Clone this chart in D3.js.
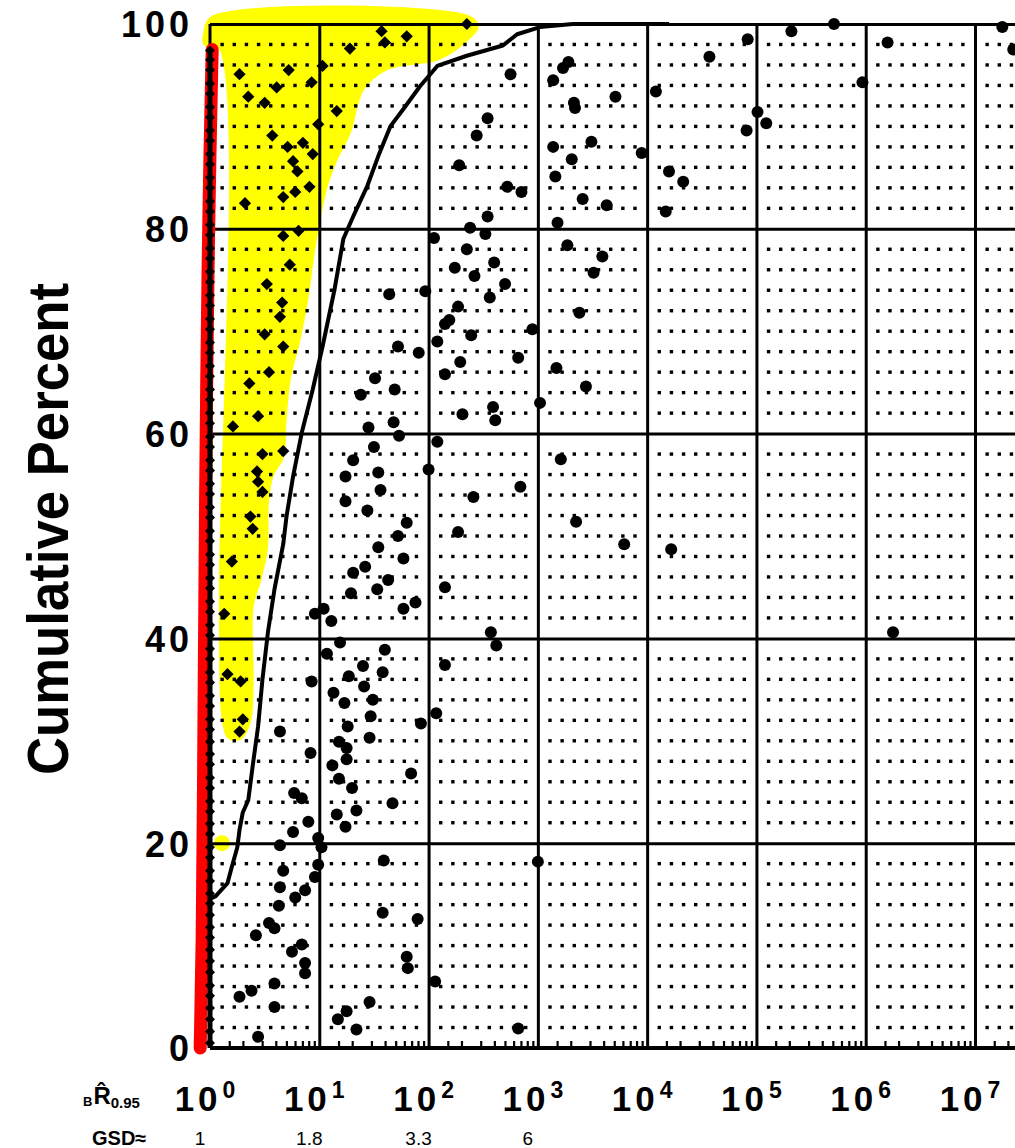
<!DOCTYPE html>
<html><head><meta charset="utf-8">
<script src="https://cdn.jsdelivr.net/npm/d3@7"></script>
<style>body{margin:0;background:#fff}svg{display:block}</style>
</head><body>
<svg id="c" width="1015" height="1148"></svg>
<script>
// ---------- data (x values stored as log10 of bR̂0.95, y as cumulative percent) ----------
const decadeExp = [0,1,2,3,4,5,6,7];
const yTicks = [0,20,40,60,80,100];
const gsdExp = [0,1,2,3];
const gsdLabels = ["1","1.8","3.3","6"];

// highlighted (diamond) points
const diamondLogR = [0.27,0.35,0.50,0.61,0.72,0.93,1.03,0.99,1.16,0.57,0.71,0.85,0.94,0.76,0.80,0.91,0.78,0.67,0.32,0.67,0.81,0.73,0.52,1.28,1.57,1.60,1.80,2.35,0.66,0.64,0.50,0.67,0.54,0.36,0.44,0.21,0.67,0.48,0.43,0.44,0.48,0.37,0.39,0.20,0.13,0.16,0.28,0.30,0.27];
const diamondPct  = [95.1,92.9,92.3,93.8,95.5,94.3,95.9,90.2,91.5,89.1,88.0,88.4,87.3,86.6,85.6,84.1,83.6,83.1,82.5,79.3,79.8,76.5,74.6,97.6,99.3,98.2,98.8,100.0,72.8,71.4,69.7,68.5,66.0,64.9,61.7,60.7,58.3,58.0,56.3,55.3,54.3,51.9,50.7,47.5,42.4,36.5,35.8,32.1,30.9];

// round points
const circleLogR = [2.75,2.54,2.44,2.28,2.72,2.85,2.54,2.38,2.52,2.05,2.35,2.60,2.24,2.42,2.70,1.64,1.97,4.57,3.28,3.23,3.14,3.71,3.33,3.34,4.08,3.14,3.49,3.31,3.95,3.16,4.20,4.33,3.41,3.63,4.17,3.18,3.27,3.59,3.51,2.56,
  4.92,5.32,5.71,6.20,5.97,5.01,5.09,4.91,7.25,7.35,3.38,2.95,2.82,3.17,3.44,3.02,3.21,2.84,3.35,3.79,4.22,2.27,2.19,2.15,2.39,2.08,1.72,1.91,2.29,2.15,1.51,1.69,1.38,2.31,2.59,2.61,1.45,1.68,1.73,2.08,1.50,1.31,2.00,1.24,1.54,1.56,1.24,1.44,1.80,1.72,2.27,2.41,1.54,
  1.77,1.42,1.31,1.63,1.53,1.29,1.88,1.77,0.96,1.04,1.11,1.19,1.60,1.07,1.40,1.58,1.27,0.93,1.41,1.13,1.49,1.23,1.47,2.07,1.93,1.26,0.64,1.46,1.18,1.25,0.92,1.25,1.12,1.84,1.18,1.30,0.77,0.84,1.67,2.15,2.57,2.62,2.15,
  1.34,1.16,1.24,0.90,0.76,0.99,0.64,1.02,0.99,0.96,0.87,0.78,0.67,0.64,0.63,1.59,1.58,1.90,0.54,0.59,0.42,0.84,0.75,1.80,1.81,0.87,0.87,2.06,0.59,0.38,0.27,0.59,1.46,1.25,1.17,1.34,2.82,0.44,3.00,6.25];
const circlePct  = [95.1,90.8,89.1,86.2,84.1,83.6,81.2,80.1,79.5,79.1,78.0,76.7,76.2,75.4,74.6,73.6,73.9,96.8,96.3,95.7,94.5,92.9,92.3,91.8,93.4,88.0,88.5,86.8,87.4,85.1,85.6,84.6,82.9,82.3,81.7,80.6,78.4,77.3,75.7,73.3,
  98.5,99.3,100.0,98.2,94.3,91.4,90.3,89.6,99.7,97.5,71.8,70.2,67.4,66.4,64.6,63.0,57.5,54.8,51.4,49.2,48.7,72.4,71.1,70.7,69.6,69.0,68.5,67.9,67.0,65.8,65.4,64.3,63.8,61.9,62.6,61.3,60.6,61.1,59.8,59.2,58.7,57.4,56.5,55.8,56.2,54.5,53.4,52.5,51.3,50.0,50.4,53.8,48.9,
  47.8,47.0,46.4,45.7,44.8,44.4,43.5,42.9,42.4,42.9,41.7,39.6,38.9,38.5,37.3,36.7,36.3,35.8,35.3,34.7,34.0,33.7,32.4,32.7,31.7,31.4,30.9,30.3,29.9,29.3,28.8,28.2,27.6,26.8,26.3,25.4,24.9,24.4,23.9,45.0,40.6,39.3,37.4,
  23.2,22.8,21.6,22.1,21.1,20.5,19.8,19.6,17.9,16.7,15.4,14.7,17.3,15.7,13.9,18.3,13.2,12.6,12.2,11.7,11.0,10.1,9.4,8.9,7.8,8.3,7.3,6.5,6.3,5.6,5.0,4.0,4.5,3.6,2.8,1.8,1.9,1.1,18.2,40.6];

// dense column of points at bR̂ = 10^0
const columnPct = [0.5,1.6,2.8,3.9,5.1,6.1,7.4,8.5,9.6,10.8,11.8,13.0,14.1,15.1,16.3,17.3,18.6,19.6,20.9,21.9,23.1,24.1,25.4,26.4,27.7,28.7,29.9,31.1,32.1,33.4,34.4,35.7,36.7,38.0,39.0,40.3,41.3,42.6,43.6,44.9,45.9,47.2,48.2,49.5,50.5,51.8,52.8,54.1,55.1,56.4,57.4,58.7,59.7,61.0,62.0,63.3,64.3,65.6,66.6,67.9,68.9,70.2,71.2,72.5,73.5,74.8,75.8,77.1,78.1,79.4,80.4,81.7,82.7,84.0,85.0,86.3,87.3,88.6,89.6,90.9,91.9,93.2,94.2,95.5,96.5,97.4];

// empirical cumulative curve
const cdfLogR = [-0.02,0.05,0.16,0.20,0.25,0.27,0.30,0.35,0.39,0.44,0.48,0.53,0.59,0.67,0.70,0.76,0.84,0.94,1.03,1.14,1.22,1.31,1.44,1.54,1.65,1.77,1.92,2.08,2.35,2.68,2.81,3.02,3.32,4.2];
const cdfPct  = [14.5,14.8,16.1,17.7,19.6,21.3,23.0,24.2,27.5,31.4,36.0,40.6,44.8,49.2,51.9,55.8,60.1,64.3,68.5,74.1,79.0,81.2,84.2,87.1,90.0,91.7,93.9,95.9,96.9,97.9,99.0,99.7,100.0,100.0];

// yellow highlight outline
const hlLogR = [-0.05,0.02,2.38,2.45,2.38,2.10,1.62,1.40,1.28,1.16,1.07,0.99,0.94,0.89,0.82,0.73,0.69,0.67,0.57,0.53,0.52,0.46,0.39,0.39,0.37,0.30,0.25,0.16,0.11,0.09,0.08,-0.05];
const hlPct  = [99.3,100.7,100.7,99.7,98.7,96.6,95.6,93.6,89.4,86.8,84.2,80.3,77.0,73.1,69.2,65.3,61.1,57.8,55.8,53.3,48.7,45.7,43.1,35.7,32.1,30.4,30.1,30.4,32.7,43.8,97.8,98.0];
const hlDot = [0.11, 20.0];

// red marker line along bR̂ = 10^0
const redLogR = [-0.09,-0.07,-0.06,-0.05,-0.04,-0.03,-0.02,0.0,0.02];
const redPct  = [0.0,10,25,40,55,65,75,88,97.5];

// ---------- drawing ----------
const W = 1015, H = 1148;
const svg = d3.select("#c");
const x = d3.scaleLog().domain([1, 1e7]).range([210, 975]);
const y = d3.scaleLinear().domain([0, 100]).range([1048, 24]);
const X = lr => x(Math.pow(10, lr));
const FONT = "'Liberation Sans', Arial, Helvetica, sans-serif";

// yellow highlight
svg.append("path")
  .datum(hlLogR.map((v,i)=>[v,hlPct[i]]))
  .attr("d", d3.line().x(d=>X(d[0])).y(d=>y(d[1])).curve(d3.curveCatmullRomClosed.alpha(0.5)))
  .attr("fill","#ffff00").attr("stroke","#ffff00").attr("stroke-width",2).attr("stroke-linejoin","round");
svg.append("circle").attr("cx",X(hlDot[0])).attr("cy",y(hlDot[1])).attr("r",8).attr("fill","#ffff00");

// dotted grid
const gridPts = [];
for (const d of decadeExp) for (let k=1;k<=8;k++){
  const lr = d + k/9; if (X(lr) > W) continue;
  for (let p=2;p<100;p+=2){ if (p%20===0) continue; gridPts.push([lr,p]); }
}
svg.append("g").selectAll("rect").data(gridPts).join("rect")
  .attr("x",d=>X(d[0])-1.7).attr("y",d=>y(d[1])-1.7).attr("width",3.4).attr("height",3.4).attr("fill","#000");

// vertical grid lines (decades)
const gV = svg.append("g").attr("transform",`translate(0,${y(0)})`)
  .call(d3.axisBottom(x).tickValues(decadeExp.slice(1).map(e=>Math.pow(10,e))).tickSize(-(y(0)-y(100))).tickFormat(""));
gV.select(".domain").remove();
gV.selectAll("line").attr("stroke","#000").attr("stroke-width",3);

// horizontal grid lines
const gH = svg.append("g").attr("transform",`translate(${x(1)},0)`)
  .call(d3.axisLeft(y).tickValues([20,40,60,80,100]).tickSize(-(W-x(1))).tickFormat(""));
gH.select(".domain").remove();
gH.selectAll("line").attr("stroke","#000").attr("stroke-width",3);

// minor ticks on bottom axis
const minor = [];
for (const d of decadeExp) for (const m of [1.5,2,3,4,5,6,7,8,9]) minor.push(m*Math.pow(10,d));
const gM = svg.append("g").attr("transform",`translate(0,${y(0)})`)
  .call(d3.axisBottom(x).tickValues(minor).tickSize(-7).tickFormat(""));
gM.select(".domain").attr("stroke","#000").attr("stroke-width",4).attr("d",`M${x(1)},0H${W}`);
gM.selectAll("line").attr("stroke","#000").attr("stroke-width",2.2);

// left border
svg.append("line").attr("x1",x(1)).attr("x2",x(1)).attr("y1",y(100)).attr("y2",y(0)).attr("stroke","#000").attr("stroke-width",3);

// cumulative curve
svg.append("path")
  .datum(cdfLogR.map((v,i)=>[v,cdfPct[i]]))
  .attr("d", d3.line().x(d=>X(d[0])).y(d=>y(d[1])))
  .attr("fill","none").attr("stroke","#000").attr("stroke-width",4).attr("stroke-linejoin","round");

// circles
svg.append("g").selectAll("circle").data(circleLogR.map((v,i)=>[v,circlePct[i]])).join("circle")
  .attr("cx",d=>X(d[0])).attr("cy",d=>y(d[1])).attr("r",6).attr("fill","#000");

// diamonds
const diamond = d3.symbol().type(d3.symbolSquare).size(75);
svg.append("g").selectAll("path").data(diamondLogR.map((v,i)=>[v,diamondPct[i]])).join("path")
  .attr("d",diamond).attr("fill","#000")
  .attr("transform",d=>`translate(${X(d[0])},${y(d[1])}) rotate(45)`);

// red line
svg.append("path")
  .datum(redLogR.map((v,i)=>[v,redPct[i]]))
  .attr("d", d3.line().x(d=>X(d[0])).y(d=>y(d[1])).curve(d3.curveBasis))
  .attr("fill","none").attr("stroke","#ff0000").attr("stroke-width",13).attr("stroke-linecap","round");

// column of points at 10^0
svg.append("line").attr("x1",x(1)).attr("x2",x(1)).attr("y1",y(97.4)).attr("y2",y(0)).attr("stroke","#000").attr("stroke-width",5);
const smallDiamond = d3.symbol().type(d3.symbolSquare).size(50);
svg.append("g").selectAll("path").data(columnPct).join("path")
  .attr("d",smallDiamond).attr("fill","#000")
  .attr("transform",p=>`translate(${x(1)},${y(p)}) rotate(45)`);

// y tick labels
const gY = svg.append("g").attr("transform",`translate(${x(1)},0)`)
  .call(d3.axisLeft(y).tickValues(yTicks).tickSize(0).tickPadding(17));
gY.select(".domain").remove();
gY.selectAll("text").attr("font-family",FONT).attr("font-weight","bold").attr("font-size",36)
  .attr("letter-spacing",4).attr("fill","#000").attr("dy","0.36em");

// x tick labels 10^n
const xl = svg.append("g").selectAll("text").data(decadeExp).join("text")
  .attr("x",e=>x(Math.pow(10,e))-3).attr("y",1111)
  .attr("text-anchor","middle").attr("font-family",FONT).attr("font-weight","bold")
  .attr("font-size",35).attr("letter-spacing",4).attr("fill","#000");
xl.append("tspan").text("10");
xl.append("tspan").text(e=>e).attr("font-size",23).attr("dy",-13).attr("dx",1);

// axis symbol  B R̂ 0.95
const rs = svg.append("text").attr("x",83).attr("y",1106).attr("font-family",FONT).attr("font-weight","bold").attr("fill","#000");
rs.append("tspan").text("B").attr("font-size",13);
rs.append("tspan").text("R\u0302").attr("font-size",24).attr("dx",1).attr("dy",-2);
rs.append("tspan").text("0.95").attr("font-size",15).attr("dy",4);

// GSD row
svg.append("text").attr("x",92).attr("y",1145).text("GSD\u2248")
  .attr("font-family",FONT).attr("font-weight","bold").attr("font-size",20).attr("fill","#000");
svg.append("g").selectAll("text").data(gsdExp).join("text")
  .attr("x",e=>x(Math.pow(10,e))-10).attr("y",1145).attr("text-anchor","middle")
  .text((e,i)=>gsdLabels[i]).attr("font-family",FONT).attr("font-size",19).attr("fill","#000");

// y axis title
const yt = svg.append("text").text("Cumulative Percent")
  .attr("text-anchor","middle").attr("font-family",FONT).attr("font-weight","bold")
  .attr("font-size",58).attr("fill","#000");
const len = yt.node().getComputedTextLength();
const sx = 492/len;
yt.attr("transform",`translate(68,529) rotate(-90) scale(${sx},1)`);
</script>
</body></html>
